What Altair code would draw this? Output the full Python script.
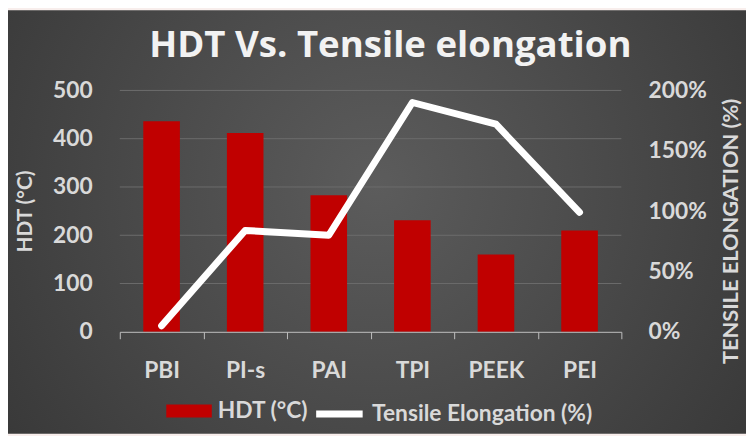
import altair as alt
import pandas as pd

# ---- data ----
materials = ["PBI", "PI-s", "PAI", "TPI", "PEEK", "PEI"]
hdt_c = [436, 412, 283, 231, 160, 210]
elongation_pct = [5, 84, 80, 190, 172, 99]
left_ticks = [0, 100, 200, 300, 400, 500]
right_ticks = [0, 50, 100, 150, 200]
bar_series = ["HDT (°C)"]
line_series = ["Tensile Elongation (%)"]

df = pd.DataFrame({
    "Material": materials,
    "HDT": hdt_c,
    "Elong": elongation_pct,
    "bar_series": bar_series * len(materials),
    "line_series": line_series * len(materials),
})
grid_df = pd.DataFrame({"HDT": left_ticks[1:]})
panel_df = pd.DataFrame({"panel": [0]})

W, H = 507, 244
PL, PT, PR, PB = 113, 81, 126, 103
FONT = "Lato"
LABEL = "#d9d9d9"

x_enc = alt.X(
    "Material:N", sort=materials,
    scale=alt.Scale(paddingInner=0, paddingOuter=0),
    axis=alt.Axis(
        title=None, labelAngle=0, labelFont=FONT, labelFontSize=23,
        labelFontWeight="bold", labelColor=LABEL, labelPadding=21,
        domainColor="#bfbfbf", domainWidth=1, tickColor="#bfbfbf",
        tickSize=7, tickWidth=1, tickBand="extent", zindex=1,
    ),
)

left_axis = alt.Axis(
    values=left_ticks, title="HDT (°C)", grid=False, ticks=False,
    domain=False, labelFont=FONT, labelFontSize=23,
    labelFontWeight="bold", labelColor=LABEL, labelPadding=28,
    labelAlign="right",
    titleFont=FONT, titleFontSize=21, titleFontWeight="bold",
    titleColor=LABEL, titleAngle=270, titleX=-95, titleY=122,
    titleAlign="center", titleBaseline="middle", zindex=1,
)
left_y = alt.Y("HDT:Q", scale=alt.Scale(domain=[0, 500]), axis=left_axis)

background = alt.Chart(panel_df).mark_rect(
    color=alt.Gradient(
        gradient="radial",
        stops=[alt.GradientStop(color="#5c5c5c", offset=0),
               alt.GradientStop(color="#2f2f2f", offset=1)],
        x1=0.5, y1=0.45, r1=0, x2=0.5, y2=0.45, r2=0.78,
    )
).encode(
    x=alt.value(-PL), x2=alt.value(W + PR),
    y=alt.value(-PT), y2=alt.value(H + PB),
)

grid = alt.Chart(grid_df).mark_rule(color="#6c6c6c", strokeWidth=1).encode(
    y=left_y, x=alt.value(0), x2=alt.value(W),
)

bars = alt.Chart(df).mark_bar(size=37).encode(
    x=x_enc,
    y=left_y,
    color=alt.Color(
        "bar_series:N",
        scale=alt.Scale(domain=bar_series, range=["#c00000"]),
        legend=alt.Legend(
            title=None, orient="none", legendX=47, legendY=311,
            symbolType="M-1,-0.5H2.538V0.5H-1Z", symbolSize=676,
            symbolStrokeWidth=0, symbolOpacity=1, labelOffset=26,
            labelFont=FONT, labelFontSize=23, labelFontWeight="bold",
            labelColor=LABEL, labelLimit=0, padding=0,
        ),
    ),
)

left_layer = alt.layer(background, grid, bars)

line = alt.Chart(df).mark_line(
    strokeWidth=7, strokeCap="round", strokeJoin="round"
).encode(
    x=x_enc,
    y=alt.Y(
        "Elong:Q", scale=alt.Scale(domain=[0, 200]),
        axis=alt.Axis(
            orient="right", values=right_ticks,
            labelExpr="datum.value + '%'", title="TENSILE ELONGATION (%)",
            grid=False, ticks=False, domain=False, labelFont=FONT,
            labelFontSize=23, labelFontWeight="bold", labelColor=LABEL,
            labelPadding=27, labelAlign="left",
            titleFont=FONT, titleFontSize=22, titleFontWeight="bold",
            titleColor=LABEL, titleAngle=270, titleX=110, titleY=142,
            titleAlign="center", titleBaseline="middle", zindex=1,
        ),
    ),
    stroke=alt.Stroke(
        "line_series:N",
        scale=alt.Scale(domain=line_series, range=["#ffffff"]),
        legend=alt.Legend(
            title=None, orient="none", legendX=195, legendY=300,
            symbolType="stroke", symbolSize=2209, symbolStrokeWidth=7,
            labelOffset=6, labelFont=FONT, labelFontSize=23,
            labelFontWeight="bold", labelColor=LABEL, labelLimit=0,
            padding=0,
        ),
    ),
)

chart = alt.layer(left_layer, line).resolve_scale(y="independent").properties(
    width=W, height=H,
    title=alt.TitleParams(
        "HDT Vs. Tensile elongation", font="Open Sans", fontSize=37,
        fontWeight="bold", color="#f2f2f2", anchor="middle", frame="group",
        dx=20, dy=55, offset=0,
    ),
    autosize=alt.AutoSizeParams(type="none"),
    padding={"left": PL, "top": PT, "right": PR, "bottom": PB},
    background="#f8eeec",
).configure_view(stroke=None)

chart.save("out.html", embed_options={"renderer": "svg", "actions": False})
